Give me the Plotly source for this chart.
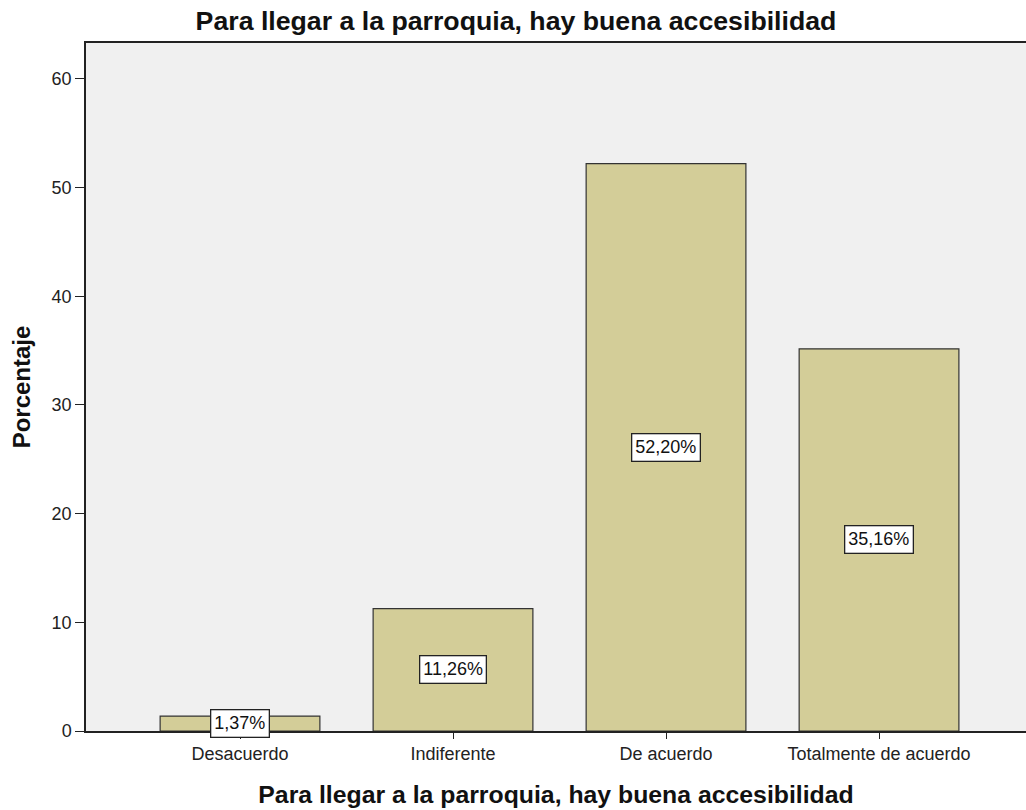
import plotly.graph_objects as go

categories = ["Desacuerdo", "Indiferente", "De acuerdo", "Totalmente de acuerdo"]
percentages = [1.37, 11.26, 52.20, 35.16]
labels = ["1,37%", "11,26%", "52,20%", "35,16%"]
y_ticks = [0, 10, 20, 30, 40, 50, 60]

title_text = "Para llegar a la parroquia, hay buena accesibilidad"

FONT = "Liberation Sans, Arial, sans-serif"

fig = go.Figure()
fig.add_trace(go.Bar(
    x=categories,
    y=percentages,
    width=0.75,
    marker=dict(color="#D3CD98", line=dict(color="#333333", width=1.2)),
    hoverinfo="skip",
))

for c, v, t in zip(categories, percentages, labels):
    fig.add_annotation(
        x=c, y=v / 2, text=t, showarrow=False,
        font=dict(family=FONT, size=18, color="#111111"),
        bgcolor="white", bordercolor="#222222", borderwidth=1.3, borderpad=3,
    )

fig.update_layout(
    width=1026, height=810,
    margin=dict(l=86, r=0, t=43, b=79),
    paper_bgcolor="white",
    plot_bgcolor="#F0F0F0",
    showlegend=False,
    title=dict(
        text="<b>" + title_text + "</b>",
        x=516 / 1026, xref="container", xanchor="center",
        y=1 - 21 / 810, yref="container", yanchor="middle",
        font=dict(family=FONT, size=26.7, color="#111111"),
    ),
    font=dict(family=FONT, size=18, color="#222222"),
)

fig.update_xaxes(
    type="category",
    range=[-0.723, 3.69],
    automargin=False,
    showline=True, linecolor="#222222", linewidth=1.5,
    mirror=True,
    ticks="outside", ticklen=6, tickcolor="#222222", tickwidth=1.2,
    showgrid=False, zeroline=False,
    tickfont=dict(family=FONT, size=18, color="#222222"),
    title=dict(text="<b>" + title_text + "</b>",
               font=dict(family=FONT, size=24.8, color="#111111"), standoff=22),
)

fig.update_yaxes(
    range=[0, 63.3],
    tickvals=y_ticks,
    automargin=False,
    showline=True, linecolor="#222222", linewidth=1.5,
    ticks="outside", ticklen=9, tickcolor="#222222", tickwidth=1.2,
    showgrid=False, zeroline=False,
    tickfont=dict(family=FONT, size=18, color="#222222"),
    title=dict(text="<b>Porcentaje</b>",
               font=dict(family=FONT, size=24, color="#111111"), standoff=14),
)

fig.write_html("out.html", config={"displayModeBar": False},
               post_script="document.body.style.margin='0';")
